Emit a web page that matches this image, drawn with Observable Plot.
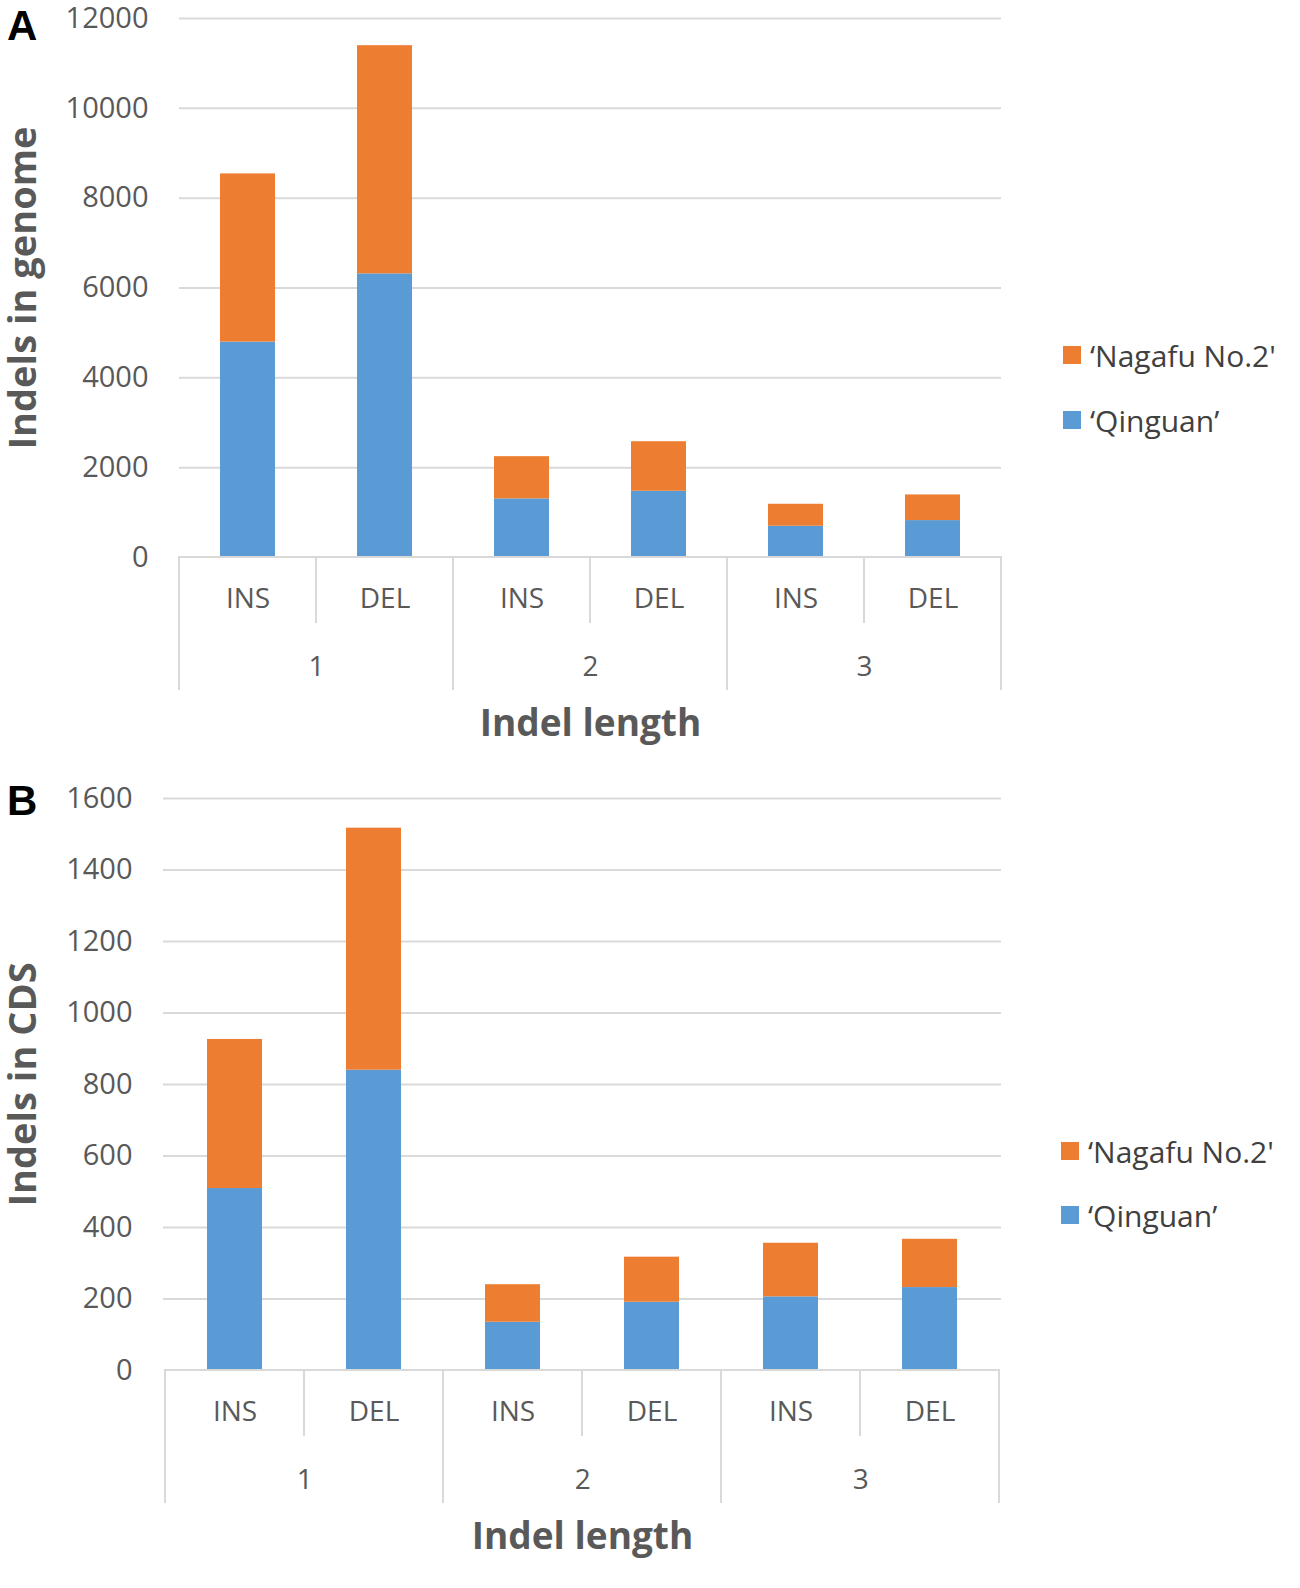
<!DOCTYPE html>
<html>
<head>
<meta charset="utf-8">
<script src="https://cdn.jsdelivr.net/npm/d3@7"></script>
<script src="https://cdn.jsdelivr.net/npm/@observablehq/plot@0.6"></script>
<style>
  html, body { margin: 0; padding: 0; background: #fff; }
  #wrap { position: relative; width: 1300px; height: 1588px; overflow: hidden; }
  #wrap svg { display: block; }
  .letter { position: absolute; font-family: "Liberation Sans", Arial, sans-serif; font-weight: bold; font-size: 42px; color: #000; line-height: 1; }
  .legend { position: absolute; font-family: "Open Sans", sans-serif; font-size: 30px; color: #404040; }
  .legend .item { position: absolute; left: 0; white-space: nowrap; display: flex; align-items: center; height: 36px; }
  .legend .sw { width: 18px; height: 18px; margin-right: 9px; display: inline-block; }
</style>
</head>
<body>
<div id="wrap"></div>
<script>
// ---- data ----
const lengths = ["1", "1", "2", "2", "3", "3"];
const types = ["INS", "DEL", "INS", "DEL", "INS", "DEL"];
const seriesNames = ["‘Nagafu No.2'", "‘Qinguan’"];
const seriesColors = ["#ED7D31", "#5B9BD5"];

// Panel A: indels in genome
const genomeQinguan = [4795, 6315, 1305, 1475, 696, 822];
const genomeNagafu  = [3745, 5080, 940, 1103, 489, 571];
const genomeTicks = [0, 2000, 4000, 6000, 8000, 10000, 12000];

// Panel B: indels in CDS
const cdsQinguan = [509, 840, 135, 191, 206, 232];
const cdsNagafu  = [417, 677, 105, 126, 150, 135];
const cdsTicks = [0, 200, 400, 600, 800, 1000, 1200, 1400, 1600];

const xTitle = "Indel length";
const yTitleA = "Indels in genome";
const yTitleB = "Indels in CDS";

const keys = lengths.map((l, i) => l + "|" + types[i]);

function rowsFor(qin, nag) {
  const rows = [];
  keys.forEach((k, i) => {
    rows.push({key: k, series: seriesNames[1], value: qin[i]});
    rows.push({key: k, series: seriesNames[0], value: nag[i]});
  });
  return rows;
}

function categoryBox() {
  return (index, scales, values, dims) => {
    const x = scales.x;
    const bw = typeof x.bandwidth === "function" ? x.bandwidth() : x.bandwidth;
    const y0 = dims.height - dims.marginBottom;
    const g = d3.create("svg:g").attr("stroke", "#d9d9d9").attr("stroke-width", 2).attr("fill", "none");
    const n = keys.length;
    const xEnd = x(keys[n - 1]) + bw;
    g.append("line").attr("x1", x(keys[0]) - 1).attr("x2", xEnd + 1).attr("y1", y0).attr("y2", y0);
    for (let i = 0; i <= n; i++) {
      const xp = i < n ? x(keys[i]) : xEnd;
      const isGroup = i === 0 || i === n || lengths[i] !== lengths[i - 1];
      g.append("line").attr("x1", xp).attr("x2", xp).attr("y1", y0).attr("y2", y0 + (isGroup ? 133 : 66));
    }
    return g.node();
  };
}

function panel({qin, nag, ticks, yTitle, height, mt, mb, ml, mr, inset, yTitleDx}) {
  const width = 1300;
  const step = (width - ml - mr) / keys.length;
  const rows = rowsFor(qin, nag);
  const groupFirst = keys.filter((k, i) => i === 0 || lengths[i] !== lengths[i - 1]);
  const groupNames = lengths.filter((l, i) => i === 0 || l !== lengths[i - 1]);
  return Plot.plot({
    width, height,
    marginTop: mt, marginBottom: mb, marginLeft: ml, marginRight: mr,
    style: {fontFamily: "'Open Sans', sans-serif", fontSize: "28px", color: "#595959", background: "#fff", overflow: "visible"},
    x: {domain: keys, padding: 0, axis: null},
    y: {domain: [ticks[0], ticks[ticks.length - 1]], ticks, axis: null},
    color: {domain: seriesNames, range: seriesColors},
    marks: [
      Plot.gridY(ticks.slice(1), {stroke: "#d9d9d9", strokeOpacity: 1, strokeWidth: 2}),
      Plot.axisY(ticks, {tickSize: 0, tickPadding: 31, tickFormat: d => String(d), fontSize: 29, fill: "#595959", label: null}),
      Plot.barY(rows, {x: "key", y: "value", fill: "series", order: [seriesNames[1], seriesNames[0]], insetLeft: inset, insetRight: inset}),
      categoryBox(),
      Plot.text(keys, {x: d => d, text: (d, i) => types[i], frameAnchor: "bottom", dy: 50, fill: "#595959", fontSize: 28}),
      Plot.text(groupFirst, {x: d => d, text: (d, i) => groupNames[i], frameAnchor: "bottom", dy: 118, dx: step / 2, fill: "#595959", fontSize: 28}),
      Plot.text([xTitle], {text: d => d, frameAnchor: "bottom", dy: 178, fill: "#595959", fontSize: 37, fontWeight: "bold"}),
      Plot.text([yTitle], {text: d => d, frameAnchor: "left", textAnchor: "middle", dx: yTitleDx, rotate: -90, fill: "#595959", fontSize: 38, fontWeight: "bold"})
    ]
  });
}

const wrap = document.getElementById("wrap");
wrap.append(panel({qin: genomeQinguan, nag: genomeNagafu, ticks: genomeTicks, yTitle: yTitleA,
  height: 770, mt: 18, mb: 213, ml: 179, mr: 299, inset: 41, yTitleDx: -156}));
wrap.append(panel({qin: cdsQinguan, nag: cdsNagafu, ticks: cdsTicks, yTitle: yTitleB,
  height: 818, mt: 28, mb: 218, ml: 163, mr: 299, inset: 42, yTitleDx: -140}));

// panel letters
function letter(t, left, top) {
  const d = document.createElement("div");
  d.className = "letter"; d.textContent = t;
  d.style.left = left + "px"; d.style.top = top + "px";
  wrap.append(d);
}
letter("A", 7, 5);
letter("B", 7, 780);

// legends
function legend(left, centers) {
  const lg = document.createElement("div");
  lg.className = "legend"; lg.style.left = left + "px"; lg.style.top = "0px";
  seriesNames.forEach((name, i) => {
    const it = document.createElement("div");
    it.className = "item";
    it.style.top = (centers[i] - 18) + "px";
    const sw = document.createElement("span");
    sw.className = "sw"; sw.style.background = seriesColors[i];
    const tx = document.createElement("span");
    tx.textContent = name;
    it.append(sw, tx);
    lg.append(it);
  });
  wrap.append(lg);
}
legend(1063, [355, 420]);
legend(1061, [1151, 1215]);
</script>
</body>
</html>
